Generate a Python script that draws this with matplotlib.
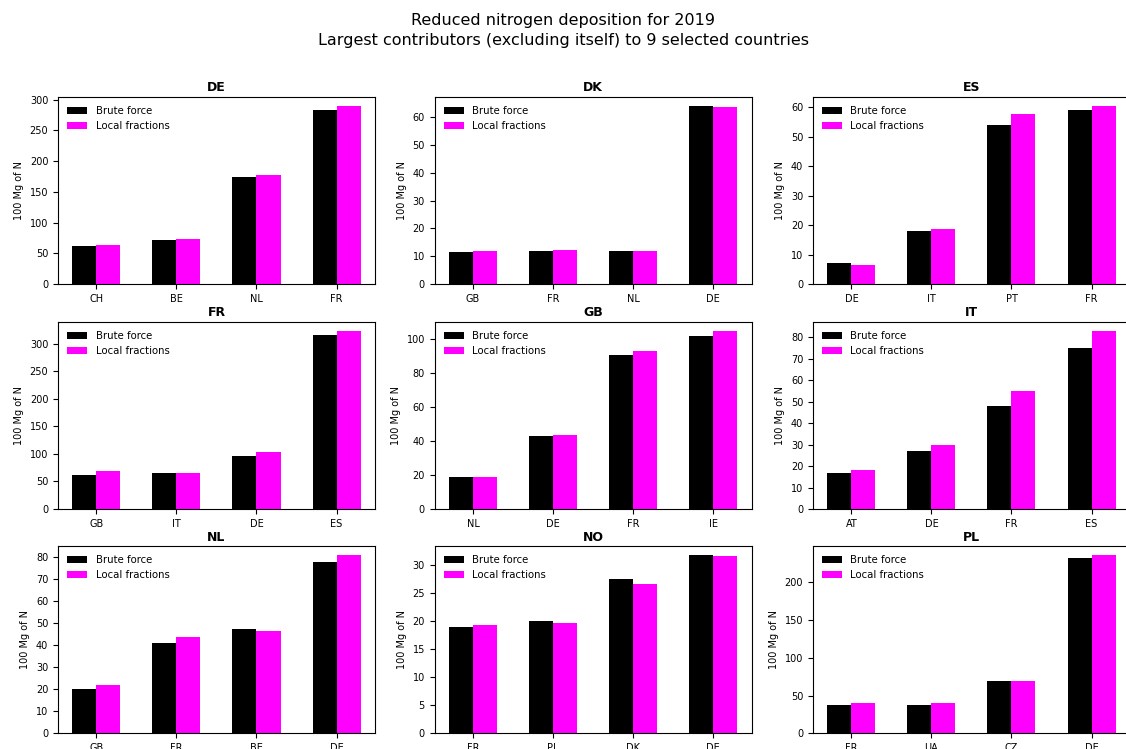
import numpy as np
import matplotlib
matplotlib.use("Agg")
import matplotlib.pyplot as plt

receivers = ["DE", "DK", "ES", "FR", "GB", "IT", "NL", "NO", "PL"]
contributors = [
    ["CH", "BE", "NL", "FR"],
    ["GB", "FR", "NL", "DE"],
    ["DE", "IT", "PT", "FR"],
    ["GB", "IT", "DE", "ES"],
    ["NL", "DE", "FR", "IE"],
    ["AT", "DE", "FR", "ES"],
    ["GB", "FR", "BE", "DE"],
    ["FR", "PL", "DK", "DE"],
    ["FR", "UA", "CZ", "DE"],
]
brute_force = [
    [62, 71, 175, 283],
    [11.5, 11.8, 12.0, 64.0],
    [7.0, 18.0, 54.0, 59.0],
    [61, 65, 96, 315],
    [19, 43, 91, 102],
    [17, 27, 48, 75],
    [20, 41, 47.5, 78],
    [19.0, 20.0, 27.5, 31.8],
    [38, 38, 69, 232],
]
local_fractions = [
    [63, 73, 177, 290],
    [12.0, 12.2, 12.0, 63.5],
    [6.6, 18.7, 57.8, 60.5],
    [69, 66, 104, 323],
    [19, 43.5, 93, 105],
    [18, 30, 55, 83],
    [22, 44, 46.5, 81],
    [19.3, 19.6, 26.7, 31.6],
    [40, 40, 69, 236],
]

fig = plt.figure(figsize=(11.26, 7.49), dpi=100)
fig.suptitle("Reduced nitrogen deposition for 2019\nLargest contributors (excluding itself) to 9 selected countries",
             fontsize=11.5, y=0.983, linespacing=1.45)

lefts = [0.0515, 0.386, 0.722]
bottoms = [0.6208, 0.3204, 0.021]
w = 0.2815
h = 0.2497
bw = 0.3

for i in range(9):
    r, c = divmod(i, 3)
    ax = fig.add_axes([lefts[c], bottoms[r], w, h])
    x = np.arange(len(contributors[i]))
    ax.bar(x - bw / 2, brute_force[i], bw, color="black", label="Brute force")
    ax.bar(x + bw / 2, local_fractions[i], bw, color="magenta", label="Local fractions")
    ax.set_xticks(x)
    ax.set_xticklabels(contributors[i])
    ax.tick_params(labelsize=7)
    ax.set_title(receivers[i], fontsize=9, fontweight="bold", pad=4)
    ax.set_ylabel("100 Mg of N", fontsize=7)
    ax.legend(loc="upper left", fontsize=7.3, frameon=False)

fig.savefig("out.png", dpi=100)
